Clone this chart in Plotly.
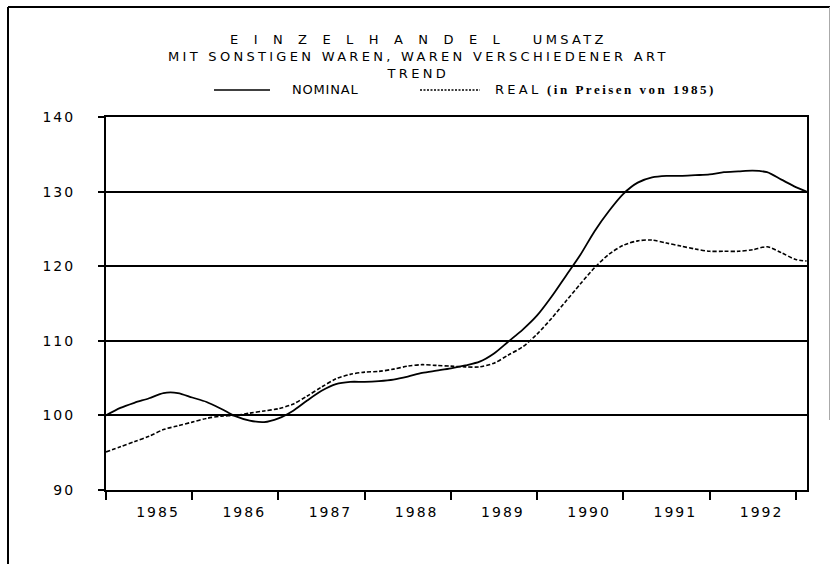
import plotly.graph_objects as go

# ---- data (index, trend) ----
years = [1985 + k / 6 for k in range(49)] + [1993.125]

nominal = [100.0, 101.0, 101.7, 102.3, 103.0, 103.0,
           102.4, 101.8, 100.9, 99.9, 99.3, 99.1,
           99.6, 100.6, 102.0, 103.3, 104.2, 104.5,
           104.5, 104.6, 104.8, 105.2, 105.7, 106.0,
           106.3, 106.7, 107.2, 108.3, 109.9, 111.5,
           113.4, 115.9, 118.7, 121.5, 124.7, 127.4,
           129.7, 131.2, 131.9, 132.1, 132.1, 132.2,
           132.3, 132.6, 132.7, 132.8, 132.6, 131.6,
           130.6, 130.0]

real = [95.1, 95.8, 96.5, 97.2, 98.1, 98.6,
        99.1, 99.6, 99.9, 100.0, 100.3, 100.6,
        100.9, 101.5, 102.6, 103.8, 104.9, 105.5,
        105.8, 105.9, 106.2, 106.6, 106.8, 106.7,
        106.6, 106.5, 106.5, 107.0, 108.1, 109.2,
        110.9, 113.0, 115.3, 117.6, 119.8, 121.6,
        122.8, 123.4, 123.5, 123.1, 122.7, 122.3,
        122.0, 122.0, 122.0, 122.2, 122.6, 121.8,
        120.9, 120.7]

year_ticks = [1985, 1986, 1987, 1988, 1989, 1990, 1991, 1992, 1993]
year_labels = ["1985", "1986", "1987", "1988", "1989", "1990", "1991", "1992", ""]
y_ticks = [90, 100, 110, 120, 130, 140]

title1a = "E I N Z E L H A N D E L"
title1b = "UMSATZ"
title2 = "MIT SONSTIGEN WAREN, WAREN VERSCHIEDENER ART"
title3 = "TREND"
leg_nominal = "NOMINAL"
leg_real = "REAL"
leg_real_note = "(in Preisen von 1985)"

# ---- layout geometry ----
W, H = 831, 564
L, R, T, B = 106, 24, 117, 74
PW, PH = W - L - R, H - T - B


def px(x):
    return (x - L) / PW


def py(y):
    return (H - B - y) / PH


FONT = "DejaVu Sans"


def sp(text, ls, ws=None):
    st = "letter-spacing:%spx" % ls
    if ws is not None:
        st += ";word-spacing:%spx" % ws
    return '<span style="%s">%s</span>' % (st, text)


fig = go.Figure()
fig.add_trace(go.Scatter(x=years, y=nominal, mode="lines", name=leg_nominal,
                         line=dict(color="black", width=1.8, shape="spline", smoothing=0.8)))
fig.add_trace(go.Scatter(x=years, y=real, mode="lines", name=leg_real,
                         line=dict(color="black", width=1.6, dash="4px,2px", shape="spline", smoothing=0.8)))

fig.update_layout(
    width=W, height=H,
    margin=dict(l=L, r=R, t=T, b=B, pad=0),
    paper_bgcolor="white", plot_bgcolor="white",
    showlegend=False,
    font=dict(family=FONT, color="black", size=12),
)

fig.update_xaxes(
    range=[1985, 1993.13], tickmode="array", tickvals=year_ticks,
    ticktext=[sp(t, 2) for t in year_labels],
    ticks="outside", ticklen=8, tickwidth=2, tickcolor="black",
    ticklabelshift=52, ticklabelstandoff=0,
    showgrid=False, zeroline=False,
    showline=True, linewidth=2, linecolor="black", mirror=True,
    tickfont=dict(family=FONT, size=14, color="black"),
)
fig.update_yaxes(
    range=[90, 140], tickmode="array", tickvals=y_ticks,
    ticktext=[sp(str(v), 2) for v in y_ticks],
    ticks="outside", ticklen=6, tickwidth=2, tickcolor="black",
    ticklabelstandoff=20,
    showgrid=True, gridcolor="black", gridwidth=1.6, zeroline=False,
    showline=True, linewidth=2, linecolor="black", mirror=True,
    tickfont=dict(family=FONT, size=14, color="black"),
)

ann = []


def text(x, y, s, size=13, xanchor="center", family=FONT):
    ann.append(dict(x=px(x), y=py(y), xref="paper", yref="paper", text=s,
                    showarrow=False, xanchor=xanchor, yanchor="middle",
                    font=dict(family=family, size=size, color="black")))


title_html = (sp(title1a, 3.3, 4.7) + sp("\u00a0" * 4, 3.3) + sp(title1b, 3.3)
              + "<br>" + sp(title2, 3.3) + "<br>" + sp(title3, 3.3))
text(418, 57, title_html)
text(290, 90, sp(leg_nominal, 0.8), xanchor="left")
text(493, 90, sp(leg_real, 3.3), xanchor="left")
text(545, 90, sp("<b>" + leg_real_note + "</b>", 2.5), size=13, xanchor="left",
     family="Liberation Serif")
fig.update_layout(annotations=ann)

shapes = [
    # legend samples
    dict(type="line", xref="paper", yref="paper", x0=px(214), x1=px(270), y0=py(90), y1=py(90),
         line=dict(color="black", width=1.6)),
    dict(type="line", xref="paper", yref="paper", x0=px(420), x1=px(480), y0=py(90), y1=py(90),
         line=dict(color="black", width=1.3, dash="2px,1.5px")),
    # page frame
    dict(type="line", xref="paper", yref="paper", x0=px(8), x1=px(830), y0=py(7), y1=py(7),
         line=dict(color="black", width=2)),
    dict(type="line", xref="paper", yref="paper", x0=px(8), x1=px(8), y0=py(7), y1=py(570),
         line=dict(color="black", width=2)),
    dict(type="line", xref="paper", yref="paper", x0=px(829.5), x1=px(829.5), y0=py(7), y1=py(420),
         line=dict(color="#aaaaaa", width=1)),
]
fig.update_layout(shapes=shapes)

fig.write_html("out.html", config={"displayModeBar": False},
               post_script="document.body.style.margin='0px';")
